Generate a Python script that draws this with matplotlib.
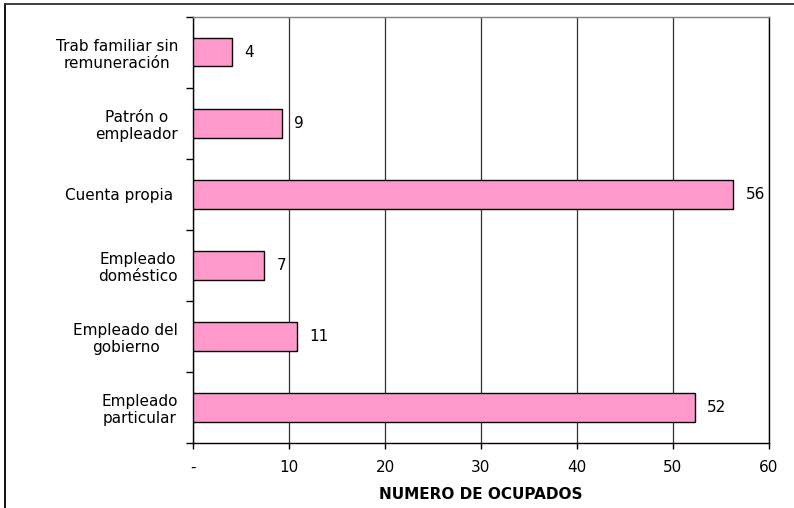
import matplotlib
matplotlib.use('Agg')
import matplotlib.pyplot as plt
from matplotlib.lines import Line2D
import numpy as np

plt.rcParams.update({'font.family': 'DejaVu Sans', 'font.size': 11})

# data, listed top to bottom as in the chart
categories = ['Trab familiar sin\nremuneración', 'Patrón o\nempleador', 'Cuenta propia ',
              'Empleado\ndoméstico', 'Empleado del\ngobierno', 'Empleado\nparticular']
values = [4.0, 9.2, 56.3, 7.4, 10.8, 52.3]
xticks = [0, 10, 20, 30, 40, 50, 60]
xticklabels = ['-', '10', '20', '30', '40', '50', '60']
xlabel = 'NUMERO DE OCUPADOS'

fig = plt.figure(figsize=(7.94, 5.08), dpi=100)
ax = fig.add_axes([0.2435, 0.128, 0.7245, 0.839])

y = np.arange(len(categories))[::-1]
bars = ax.barh(y, values, height=0.4, color='#FF99CC', edgecolor='black', linewidth=1, zorder=3)
for b, v in zip(bars, values):
    ax.annotate(f'{v:.0f}', xy=(b.get_width(), b.get_y() + b.get_height() / 2),
                xytext=(9, 0), textcoords='offset points', ha='left', va='center', fontsize=11)

ax.set_xlim(0, 60)
ax.set_ylim(-0.5, len(categories) - 0.5)
ax.set_xticks(xticks)
ax.set_xticklabels(xticklabels)
ax.xaxis.grid(True, color='#303030', linewidth=0.9, zorder=0)

# category labels centred on bars, ticks on the boundaries
ax.set_yticks(y)
ax.set_yticklabels(categories, linespacing=1.15)
for lbl in ax.get_yticklabels():
    lbl.set_multialignment('center')
ax.tick_params(axis='y', length=0, pad=11)
ax.set_yticks(np.arange(-0.5, len(categories)), minor=True)
ax.tick_params(axis='y', which='minor', length=5, width=1, direction='out')
ax.tick_params(axis='x', length=4, width=1, direction='out', pad=8)

ax.set_xlabel(xlabel, fontweight='bold', fontsize=11, labelpad=9)

for s in ['left', 'bottom', 'right']:
    ax.spines[s].set_color('black')
    ax.spines[s].set_linewidth(1)
ax.spines['top'].set_color('#808080')
ax.spines['top'].set_linewidth(1)

# outer frame (left and top)
fig.add_artist(Line2D([5 / 794, 5 / 794], [0, 1 - 4 / 508], transform=fig.transFigure, color='black', lw=1.3))
fig.add_artist(Line2D([5 / 794, 1], [1 - 4 / 508, 1 - 4 / 508], transform=fig.transFigure, color='#303030', lw=1.3))

fig.savefig('out.png', dpi=100)
